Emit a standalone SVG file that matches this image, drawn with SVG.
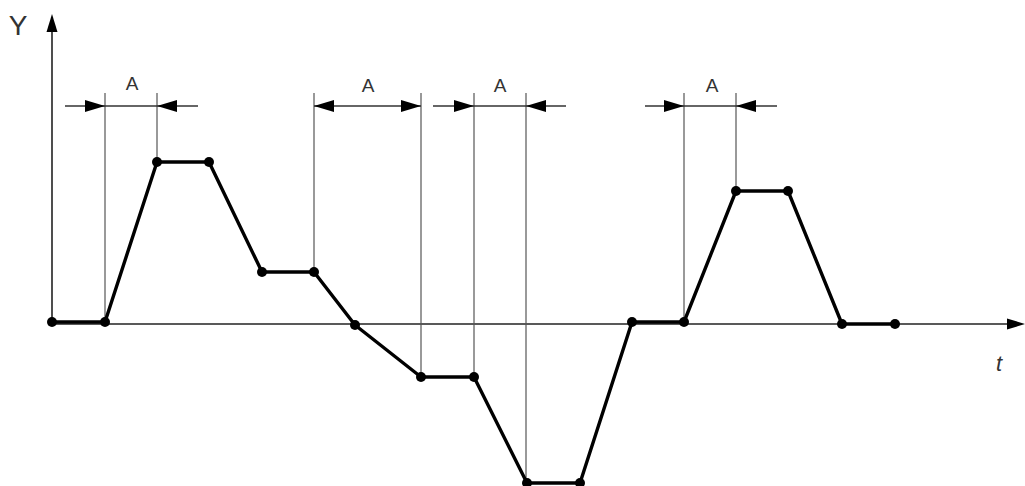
<svg xmlns="http://www.w3.org/2000/svg" width="1025" height="486" viewBox="0 0 1025 486">
<style>
.ext{stroke:#555;stroke-width:1.2;fill:none}
.dim{stroke:#333;stroke-width:1.4;fill:none}
.axis{stroke:#222;stroke-width:1.6;fill:none}
.curve{stroke:#000;stroke-width:3.4;fill:none;stroke-linejoin:round}
.lbl{font-family:"Liberation Sans",Arial,sans-serif;fill:#333}
</style>
<defs>
<polygon id="ar" points="0,0 -20,-6 -20,6" fill="#000"/>
<polygon id="axr" points="0,0 -18,-5.5 -18,5.5" fill="#000"/>
<circle id="pt" r="5" fill="#000"/>
</defs>
<rect width="1025" height="486" fill="#fff"/>
<g id="axes">
<line class="axis" x1="52" y1="28" x2="52" y2="322"/>
<use href="#axr" transform="translate(52,14) rotate(-90)"/>
<line class="axis" x1="52" y1="324" x2="1008" y2="324"/>
<use href="#axr" transform="translate(1025,324)"/>
<text class="lbl" x="18" y="35" font-size="28" text-anchor="middle">Y</text>
<text class="lbl" x="999" y="371" font-size="22" font-style="italic" text-anchor="middle">t</text>
</g>
<g id="extension-lines">
<line class="ext" x1="105" y1="93" x2="105" y2="322"/>
<line class="ext" x1="157" y1="93" x2="157" y2="162"/>
<line class="ext" x1="314" y1="93" x2="314" y2="272"/>
<line class="ext" x1="421" y1="93" x2="421" y2="377"/>
<line class="ext" x1="474" y1="93" x2="474" y2="377"/>
<line class="ext" x1="526" y1="93" x2="526" y2="483"/>
<line class="ext" x1="684" y1="93" x2="684" y2="322"/>
<line class="ext" x1="736" y1="93" x2="736" y2="191"/>
</g>
<g id="dim1">
<line class="dim" x1="65" y1="106" x2="198" y2="106"/>
<use href="#ar" transform="translate(105,106)"/>
<use href="#ar" transform="translate(157,106) rotate(180)"/>
<text class="lbl" x="132" y="90" font-size="19" text-anchor="middle">A</text>
</g>
<g id="dim2">
<line class="dim" x1="314" y1="106" x2="421" y2="106"/>
<use href="#ar" transform="translate(314,106) rotate(180)"/>
<use href="#ar" transform="translate(421,106)"/>
<text class="lbl" x="368" y="92" font-size="19" text-anchor="middle">A</text>
</g>
<g id="dim3">
<line class="dim" x1="433" y1="106" x2="566" y2="106"/>
<use href="#ar" transform="translate(474,106)"/>
<use href="#ar" transform="translate(526,106) rotate(180)"/>
<text class="lbl" x="500" y="92" font-size="19" text-anchor="middle">A</text>
</g>
<g id="dim4">
<line class="dim" x1="645" y1="106" x2="777" y2="106"/>
<use href="#ar" transform="translate(684,106)"/>
<use href="#ar" transform="translate(736,106) rotate(180)"/>
<text class="lbl" x="712" y="92" font-size="19" text-anchor="middle">A</text>
</g>
<g id="curve">
<polyline class="curve" points="52,322 105,322 157,162 209,162 262,272 314,272 355,325 421,377 474,377 527,483 580,483 632,322 684,322 736,191 788,191 842,324 895,324"/>
<use href="#pt" x="52" y="322"/>
<use href="#pt" x="105" y="322"/>
<use href="#pt" x="157" y="162"/>
<use href="#pt" x="209" y="162"/>
<use href="#pt" x="262" y="272"/>
<use href="#pt" x="314" y="272"/>
<use href="#pt" x="355" y="325"/>
<use href="#pt" x="421" y="377"/>
<use href="#pt" x="474" y="377"/>
<use href="#pt" x="527" y="483"/>
<use href="#pt" x="580" y="483"/>
<use href="#pt" x="632" y="322"/>
<use href="#pt" x="684" y="322"/>
<use href="#pt" x="736" y="191"/>
<use href="#pt" x="788" y="191"/>
<use href="#pt" x="842" y="324"/>
<use href="#pt" x="895" y="324"/>
</g>
</svg>
